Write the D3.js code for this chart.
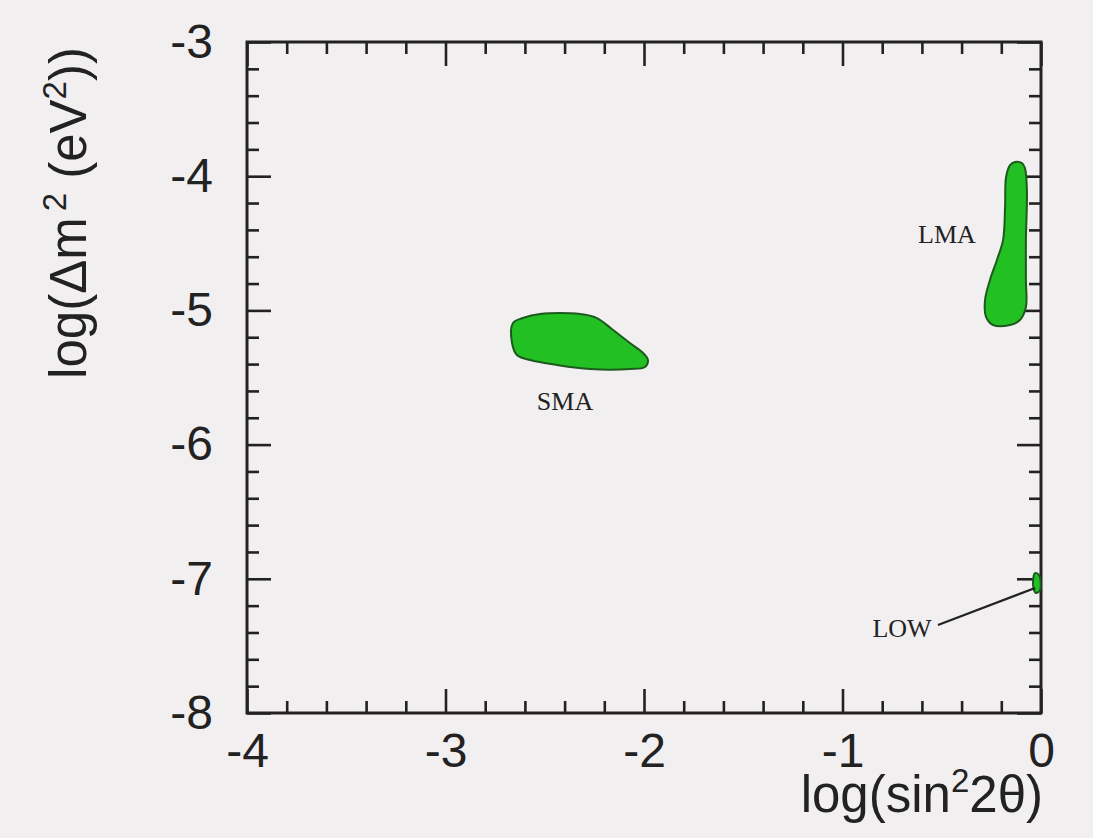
<!DOCTYPE html>
<html>
<head>
<meta charset="utf-8">
<script src="https://cdn.jsdelivr.net/npm/d3@7"></script>
<style>
  html, body { margin: 0; padding: 0; background: #f2eff1; }
  svg { display: block; }
</style>
</head>
<body>
<script>
// ---- data (log10 sin^2 2θ, log10 Δm^2) ----
const xMajorTicks = [-4, -3, -2, -1, 0];
const yMajorTicks = [-3, -4, -5, -6, -7, -8];

const smaX = [-2.660, -2.610, -2.524, -2.322, -2.237, -2.156, -2.071, -2.005, -1.980, -1.995, -2.071, -2.272, -2.438, -2.574, -2.640, -2.665];
const smaY = [-5.094, -5.057, -5.027, -5.027, -5.057, -5.146, -5.243, -5.317, -5.370, -5.422, -5.437, -5.437, -5.407, -5.370, -5.332, -5.243];

const lmaX = [-0.131, -0.096, -0.081, -0.071, -0.076, -0.076, -0.076, -0.106, -0.156, -0.242, -0.277, -0.282, -0.257, -0.222, -0.191, -0.181, -0.176, -0.156];
const lmaY = [-3.894, -3.902, -3.939, -4.103, -4.475, -4.773, -4.975, -5.072, -5.109, -5.109, -5.049, -4.923, -4.773, -4.624, -4.475, -4.230, -4.006, -3.917];

const lowX = [-0.030, -0.010, -0.005, -0.025, -0.040];
const lowY = [-6.957, -6.972, -7.084, -7.106, -7.047];

const lowPointerX = [-0.519, -0.030];
const lowPointerY = [-7.344, -7.069];

const regionLabels = ["SMA", "LMA", "LOW"];
const labelX = [-2.398, -0.474, -0.700];
const labelY = [-5.742, -4.498, -7.434];

// ---- layout ----
const W = 1093, H = 838;
const L = 247, R = 1041, T = 42, B = 713;

const svg = d3.select("body").append("svg").attr("width", W).attr("height", H);
svg.append("rect").attr("width", W).attr("height", H).attr("fill", "#f2eff1");

const x = d3.scaleLinear().domain([-4, 0]).range([L, R]);
const y = d3.scaleLinear().domain([-8, -3]).range([B, T]);

const xMinor = d3.range(-4, 0.001, 0.2).map(v => +v.toFixed(1)).filter(v => !xMajorTicks.includes(v));
const yMinor = d3.range(-8, -2.999, 0.2).map(v => +v.toFixed(1)).filter(v => !yMajorTicks.includes(v));

const ink = "#222";
const tickFont = "'Liberation Sans', Arial, sans-serif";

function styleAxis(g, showLabels) {
  g.select(".domain").remove();
  g.selectAll(".tick line").attr("stroke", ink).attr("stroke-width", 2.6);
  g.selectAll(".tick text")
    .attr("fill", ink)
    .attr("font-family", tickFont)
    .attr("font-size", 48)
    .style("display", showLabels ? null : "none");
}

const fmt = d => d3.format("d")(d).replace("−", "-");

// bottom
svg.append("g").attr("transform", `translate(0,${B})`)
  .call(d3.axisBottom(x).tickValues(xMajorTicks).tickSizeInner(-24).tickSizeOuter(0).tickPadding(20).tickFormat(fmt))
  .call(g => styleAxis(g, true));
svg.append("g").attr("transform", `translate(0,${B})`)
  .call(d3.axisBottom(x).tickValues(xMinor).tickSizeInner(-12).tickSizeOuter(0))
  .call(g => styleAxis(g, false));
// top
svg.append("g").attr("transform", `translate(0,${T})`)
  .call(d3.axisTop(x).tickValues(xMajorTicks).tickSizeInner(-24).tickSizeOuter(0))
  .call(g => styleAxis(g, false));
svg.append("g").attr("transform", `translate(0,${T})`)
  .call(d3.axisTop(x).tickValues(xMinor).tickSizeInner(-12).tickSizeOuter(0))
  .call(g => styleAxis(g, false));
// left
svg.append("g").attr("transform", `translate(${L},0)`)
  .call(d3.axisLeft(y).tickValues(yMajorTicks).tickSizeInner(-24).tickSizeOuter(0).tickPadding(34).tickFormat(fmt))
  .call(g => styleAxis(g, true));
svg.append("g").attr("transform", `translate(${L},0)`)
  .call(d3.axisLeft(y).tickValues(yMinor).tickSizeInner(-12).tickSizeOuter(0))
  .call(g => styleAxis(g, false));
// right
svg.append("g").attr("transform", `translate(${R},0)`)
  .call(d3.axisRight(y).tickValues(yMajorTicks).tickSizeInner(-24).tickSizeOuter(0))
  .call(g => styleAxis(g, false));
svg.append("g").attr("transform", `translate(${R},0)`)
  .call(d3.axisRight(y).tickValues(yMinor).tickSizeInner(-12).tickSizeOuter(0))
  .call(g => styleAxis(g, false));

// frame
svg.append("rect")
  .attr("x", L).attr("y", T).attr("width", R - L).attr("height", B - T)
  .attr("fill", "none").attr("stroke", ink).attr("stroke-width", 3);

// regions
const line = d3.line().x(d => x(d[0])).y(d => y(d[1])).curve(d3.curveCatmullRomClosed.alpha(0.5));
const regions = [
  d3.zip(smaX, smaY),
  d3.zip(lmaX, lmaY),
  d3.zip(lowX, lowY)
];
svg.append("g").selectAll("path").data(regions).join("path")
  .attr("d", line)
  .attr("fill", "#22c022")
  .attr("stroke", "#1d5a1d")
  .attr("stroke-width", 2);

// LOW pointer
svg.append("path")
  .attr("d", d3.line().x(d => x(d[0])).y(d => y(d[1]))(d3.zip(lowPointerX, lowPointerY)))
  .attr("stroke", ink).attr("stroke-width", 2.2).attr("fill", "none");

// region labels
svg.append("g").selectAll("text").data(regionLabels).join("text")
  .attr("x", (d, i) => x(labelX[i]))
  .attr("y", (d, i) => y(labelY[i]))
  .attr("text-anchor", "middle")
  .attr("font-family", "'Liberation Serif', 'Times New Roman', serif")
  .attr("font-size", 26)
  .attr("fill", ink)
  .text(d => d);

// axis titles
const xt = svg.append("text")
  .attr("x", 1043).attr("y", 812)
  .attr("text-anchor", "end")
  .attr("font-family", tickFont).attr("font-size", 51).attr("fill", ink);
xt.append("tspan").text("log(sin");
xt.append("tspan").attr("dy", -20).attr("font-size", 33).text("2");
xt.append("tspan").attr("dy", 20).text("2θ)");

const yt = svg.append("text")
  .attr("transform", "translate(86,213) rotate(-90)")
  .attr("text-anchor", "middle")
  .attr("font-family", tickFont).attr("font-size", 51).attr("fill", ink);
yt.append("tspan").text("log(Δm");
yt.append("tspan").attr("dy", -20).attr("font-size", 33).attr("dx", 6).text("2");
yt.append("tspan").attr("dy", 20).text(" (eV");
yt.append("tspan").attr("dy", -20).attr("font-size", 33).text("2");
yt.append("tspan").attr("dy", 20).text("))");
</script>
</body>
</html>
